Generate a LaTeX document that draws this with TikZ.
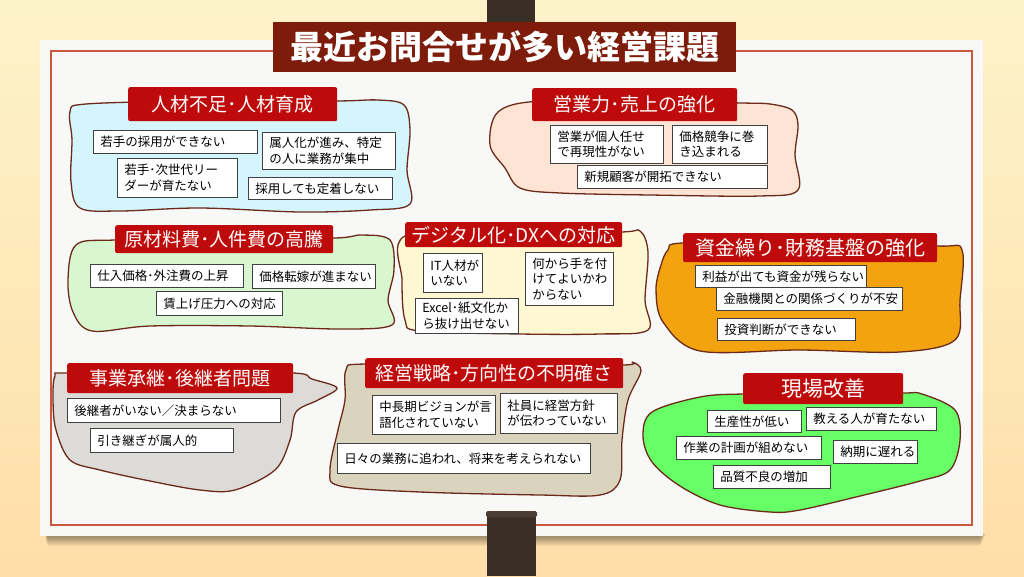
\documentclass[tikz,border=0pt]{standalone}
\usepackage{fontspec}
\setmainfont{Noto Sans CJK JP}
\definecolor{bgtop}{HTML}{FDF3CA}
\definecolor{bgbot}{HTML}{FFDEA8}
\definecolor{board}{HTML}{F8F8F6}
\definecolor{frame}{HTML}{C9583E}
\definecolor{pole}{HTML}{3A2F27}
\definecolor{polecap}{HTML}{4A3D34}
\definecolor{titlered}{HTML}{7E1C0B}
\definecolor{labred}{HTML}{BE0A0A}
\definecolor{outline}{HTML}{6B2A1A}
\definecolor{cA}{HTML}{D3F5FB}
\definecolor{cB}{HTML}{FDE4D4}
\definecolor{cC}{HTML}{D8F6CF}
\definecolor{cD}{HTML}{FEF8D2}
\definecolor{cE}{HTML}{F2A30F}
\definecolor{cF}{HTML}{DCDBD8}
\definecolor{cG}{HTML}{DAD4BE}
\definecolor{cH}{HTML}{66FF66}
\tikzset{
  blob/.style={draw=outline, line width=1.3pt, line join=round},
  box/.style={draw=black!75, line width=0.7pt, fill=white, anchor=north west,
    inner xsep=7pt, inner ysep=0pt, align=left, text=black,
    font=\fontsize{12.5pt}{15.5pt}\selectfont},
  lab/.style={fill=labred, rounded corners=2pt, anchor=north west, inner sep=0pt,
    align=center, text=white},
}
\newcommand\mybox[6]{%
  \pgfmathsetmacro\bw{#4-#2}\pgfmathsetmacro\bh{#5-#3}\pgfmathsetmacro\tw{#4-#2-14}%
  \node[box, minimum width=\bw pt, minimum height=\bh pt, text width=\tw pt] (#1) at (#2,#3) {#6};}
\newcommand\mylabel[7]{%
  \pgfmathsetmacro\bw{#4-#2}\pgfmathsetmacro\bh{#5-#3}%
  \node[lab, minimum width=\bw pt, minimum height=\bh pt, font=\fontsize{#7pt}{#7pt}\selectfont] (#1) at (#2,#3) {#6};}
\begin{document}
\begin{tikzpicture}[x=1pt,y=-1pt]
\useasboundingbox (0,0) rectangle (1024,576);
% background
\shade[top color=bgtop, bottom color=bgbot] (0,0) rectangle (1024,576);
% top pole
\fill[pole] (487,0) rectangle (535,30);
% board shadow (soft)
\foreach \s in {1,2,...,12}{
  \fill[black, opacity=0.045] (44+\s*0.3,534) rectangle (986-\s*0.5,534+\s);
}
% board
\fill[board] (40,40) rectangle (983,536);
\draw[frame, line width=1.2pt] (51,51) rectangle (972,525);
% bottom pole
\fill[pole] (487,514) rectangle (536,576);
\fill[polecap, rounded corners=1.5pt] (486,511) rectangle (537,517);
% title
\node[fill=titlered, anchor=north west, minimum width=463pt, minimum height=50pt, inner sep=0pt,
  text=white, font=\fontsize{33pt}{33pt}\selectfont\bfseries] (title) at (273,22) {最近お問合せが多い経営課題};

% blob 1
\draw[blob, fill=cA] plot[smooth cycle, tension=0.55] coordinates {
 (86,104) (200,101) (335,101) (378,100) (404,105) (410,130) (407,170) (410,204)
 (370,210) (300,212) (200,208) (120,211) (80,208) (71,182) (72,140) (70,112)};
\mylabel{l1}{128}{87}{337}{121}{人材不足･人材育成}{19}
\mybox{a1}{93}{130}{257}{153}{若手の採用ができない}
\mybox{a2}{262}{132}{395}{169}{属人化が進み、特定\\の人に業務が集中}
\mybox{a3}{117}{158}{237}{197}{若手･次世代リー\\ダーが育たない}
\mybox{a4}{248}{177}{392}{199}{採用しても定着しない}

% blob 2
\draw[blob, fill=cB] plot[smooth cycle, tension=0.55] coordinates {
 (498,112) (540,101) (650,101) (742,103) (770,104) (792,110) (798,125) (795,155)
 (798,190) (760,196) (650,195) (560,193) (520,188) (505,168) (490,145)};
\mylabel{l2}{532}{88}{737}{121}{営業力･売上の強化}{19}
\mybox{b1}{550}{125}{663}{163}{営業が個人任せ\\で再現性がない}
\mybox{b2}{672}{125}{767}{163}{価格競争に巻\\き込まれる}
\mybox{b3}{577}{165}{767}{188}{新規顧客が開拓できない}

% blob 3
\draw[blob, fill=cC] plot[smooth cycle, tension=0.55] coordinates {
 (76,245) (115,240) (230,239) (335,238) (362,235) (390,240) (394,270) (388,300)
 (392,325) (340,329) (250,326) (150,326) (92,331) (73,312) (68,280)};
\mylabel{l3}{115}{225}{333}{253}{原材料費･人件費の高騰}{19}
\mybox{c1}{90}{264}{243}{287}{仕入価格･外注費の上昇}
\mybox{c2}{252}{264}{375}{288}{価格転嫁が進まない}
\mybox{c3}{156}{291}{282}{315}{賃上げ圧力への対応}

% blob 4
\draw[blob, fill=cD] plot[smooth cycle, tension=0.55] coordinates {
 (405,236) (500,233) (620,232) (640,231) (648,252) (645,300) (648,330)
 (600,334) (520,334) (420,331) (405,320) (402,280)};
\mylabel{l4}{405}{222}{622}{247}{デジタル化･DXへの対応}{19}
\mybox{d1}{423}{253}{482}{292}{IT人材が\\いない}
\mybox{d2}{525}{252}{613}{305}{何から手を付\\けてよいかわ\\からない}
\mybox{d3}{415}{298}{518}{333}{Excel･紙文化か\\ら抜け出せない}

% blob 5
\draw[blob, fill=cE] plot[smooth cycle, tension=0.55] coordinates {
 (668,250) (683,243) (800,244) (937,246) (962,250) (960,300) (955,340) (900,352)
 (800,350) (700,351) (663,322) (656,290) (661,265)};
\mylabel{l5}{683}{233}{937}{262}{資金繰り･財務基盤の強化}{20}
\mybox{e1}{695}{265}{866}{287}{利益が出ても資金が残らない}
\mybox{e2}{716}{287}{902}{310}{金融機関との関係づくりが不安}
\mybox{e3}{717}{318}{855}{340}{投資判断ができない}

% blob 6
\draw[blob, fill=cF] plot[smooth cycle, tension=0.55] coordinates {
 (55,376) (67,373) (180,373) (293,373) (312,379) (337,388) (318,400) (296,412)
 (290,440) (275,470) (235,490) (200,490) (150,481) (100,470) (70,460) (56,430) (53,400)};
\mylabel{l6}{67}{363}{293}{393}{事業承継･後継者問題}{19}
\mybox{f1}{67}{398}{280}{422}{後継者がいない／決まらない}
\mybox{f2}{90}{428}{233}{452}{引き継ぎが属人的}

% blob 7
\draw[blob, fill=cG] plot[smooth cycle, tension=0.55] coordinates {
 (346,370) (365,364) (500,365) (623,365) (632,362) (641,371) (628,400) (622,440)
 (620,480) (600,495) (540,495) (420,492) (340,486) (330,470) (338,430) (345,400)};
\mylabel{l7}{365}{358}{623}{388}{経営戦略･方向性の不明確さ}{19}
\mybox{g1}{372}{395}{495}{434}{中長期ビジョンが言\\語化されていない}
\mybox{g2}{500}{393}{617}{433}{社員に経営方針\\が伝わっていない}
\mybox{g3}{337}{443}{590}{473}{日々の業務に追われ、将来を考えられない}

% blob 8
\draw[blob, fill=cH] plot[smooth cycle, tension=0.55] coordinates {
 (652,412) (700,397) (743,394) (820,394) (903,393) (922,394) (955,410) (960,440)
 (950,470) (920,481) (860,496) (800,510) (770,512) (720,505) (680,486) (652,462) (643,436)};
\mylabel{l8}{743}{373}{903}{404}{現場改善}{21}
\mybox{h1}{707}{410}{801}{432}{生産性が低い}
\mybox{h2}{806}{407}{936}{430}{教える人が育たない}
\mybox{h3}{676}{436}{821}{459}{作業の計画が組めない}
\mybox{h4}{833}{440}{917}{463}{納期に遅れる}
\mybox{h5}{713}{465}{830}{488}{品質不良の増加}
\end{tikzpicture}
\end{document}
